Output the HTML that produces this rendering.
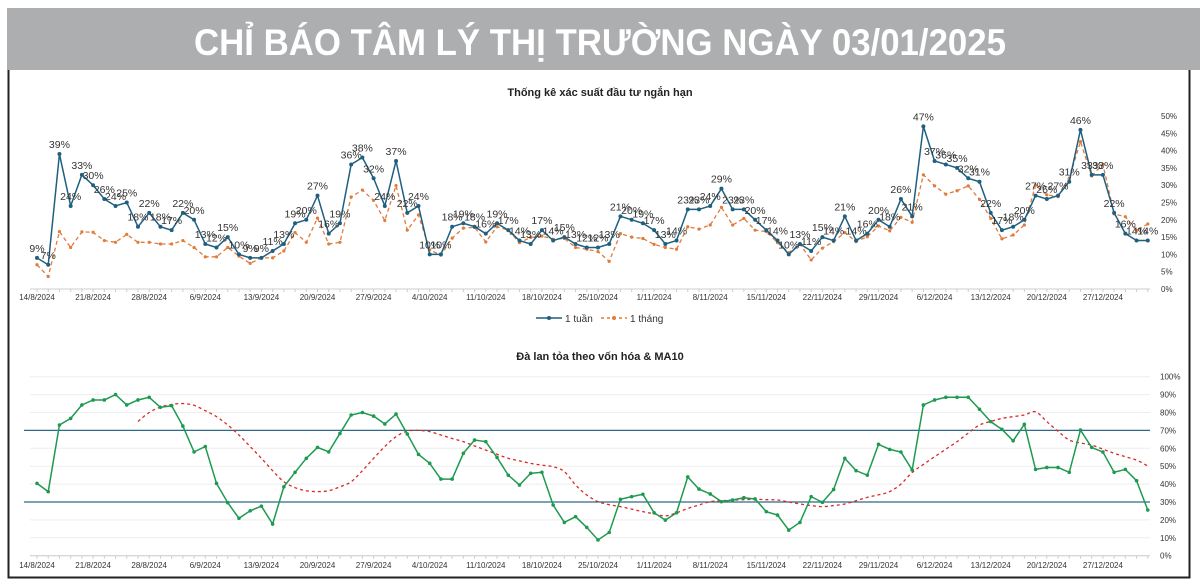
<!DOCTYPE html>
<html><head><meta charset="utf-8"><style>
html,body{margin:0;padding:0;background:#fff;}
svg{display:block;font-family:"Liberation Sans",sans-serif;}
</style></head><body>
<svg id="c" width="1200" height="587" viewBox="0 0 1200 587" xmlns="http://www.w3.org/2000/svg">
<rect x="7" y="8" width="1193" height="62" fill="#adaeb0"/>
<text x="600" y="55" text-anchor="middle" fill="#fff" font-size="37" font-weight="bold" textLength="812" lengthAdjust="spacingAndGlyphs">CHỈ BÁO TÂM LÝ THỊ TRƯỜNG NGÀY 03/01/2025</text>
<path d="M8.5 70 V577.5 H1189.5 V70" fill="none" stroke="#222" stroke-width="2"/>
<text x="600" y="96" text-anchor="middle" font-size="11" font-weight="bold" fill="#222">Thống kê xác suất đầu tư ngắn hạn</text>
<text x="600" y="360" text-anchor="middle" font-size="11" font-weight="bold" fill="#222">Đà lan tỏa theo vốn hóa &amp; MA10</text>
<g>
<g><line x1="536" y1="318" x2="562" y2="318" stroke="#1f5f7f" stroke-width="1.5"/><circle cx="549" cy="318" r="2" fill="#1f5f7f"/><text x="565" y="322" font-size="10" fill="#333">1 tuần</text></g>
<g><line x1="601" y1="318" x2="627" y2="318" stroke="#e07b39" stroke-width="1.5" stroke-dasharray="3,3"/><circle cx="614" cy="318" r="2" fill="#e07b39"/><text x="630" y="322" font-size="10" fill="#333">1 tháng</text></g>
</g>
<g id="gtop"></g>
<g id="gbot"></g>
</svg>
<script>
const xLabels=["14/8/2024","21/8/2024","28/8/2024","6/9/2024","13/9/2024","20/9/2024","27/9/2024","4/10/2024","11/10/2024","18/10/2024","25/10/2024","1/11/2024","8/11/2024","15/11/2024","22/11/2024","29/11/2024","6/12/2024","13/12/2024","20/12/2024","27/12/2024"];
const week1=[9,7,39,24,33,30,26,24,25,18,22,18,17,22,20,13,12,15,10,9,9,11,13,19,20,27,16,19,36,38,32,24,37,22,24,10,10,18,19,18,16,19,17,14,13,17,14,15,13,12,12,13,21,20,19,17,13,14,23,23,24,29,23,23,20,17,14,10,13,11,15,14,21,14,16,20,18,26,21,47,37,36,35,32,31,22,17,18,20,27,26,27,31,46,33,33,22,16,14,14];
const month1=[7,3.6,16.6,12,16.5,16.4,14,13.5,15.8,13.5,13.5,13,13,14,12,9.3,9.3,12,9.5,7.4,9,9,11,16.3,13.5,20.5,13,13.5,26.6,28.6,25.6,19.8,29.9,17,21.4,11.3,9.8,14.7,17.6,17.8,13.6,18,17,13.4,14.9,15.3,14.4,14.6,12,11.5,10.8,8,16,15,14.6,12.9,12,11.5,18,17.3,18.5,23.6,18.5,20.4,17,16.6,13.4,10.5,13,8.4,11.8,13.7,16.3,13.7,15.1,18.2,16.8,20.7,19.3,33,29.8,27.4,28.4,29.8,25.9,20.4,14.5,15.6,18.5,30,27.2,26.7,32,42.6,32.7,36,21.7,20.9,16.9,18.8];
const breadth=[40.4,35.8,73,76.7,84.2,87,87,90,84.2,87,88.5,82.9,83.8,72.4,58,61,40.4,29.6,20.9,25.1,27.7,17.7,38.5,46.6,54.4,60.5,58,68.3,78.6,80,78,73.6,79.1,68,56.6,51.6,42.8,42.8,57.2,64.6,63.7,54.9,45,39.5,46,46.6,28.3,18.6,21.8,15.8,8.8,13,31.5,33,34.3,24,19.9,24,44,37.2,34.5,30.2,31.1,32.4,31.7,24.6,22.7,14.3,18.6,33,29.8,37,54.4,47.5,45,62.2,59.4,57.9,47.9,84.2,87,88.5,88.5,88.5,81.8,74.9,70.6,64.2,73.4,48.2,49.3,49.3,46.6,70.2,60.5,57.9,46.6,48.2,41.9,25.5];
const ma10=[null,null,null,null,null,null,null,null,null,75,80,83,84.5,85,84,81,77.7,73,67.4,61,54.4,47.5,41.3,38,36.3,35.8,36.3,38.5,41.3,47.5,54.4,61,66.5,69.6,70,69.3,67.4,65.5,63.7,61.3,59,56.7,54.4,53,51.6,50.6,49.7,47,39.5,33.9,30.2,28.5,27.4,26,24.6,23.4,22.2,24,26.4,28.3,30.2,30.7,31.1,31.3,31.5,31.3,31.1,30,28.9,28,27.4,28,28.9,30.7,32.6,34,35.8,40,46.5,51,55.3,59.5,63.7,68.5,73,75,76.7,77.7,78.6,80.4,74.9,69.5,64.6,63,61.8,59.5,57.2,55.3,53.4,50.1];
const topTicks=[0,5,10,15,20,25,30,35,40,45,50];
const botTicks=[0,10,20,30,40,50,60,70,80,90,100];
const bands=[70,30];

const NS="http://www.w3.org/2000/svg";
function mk(parent,tag,attrs,text){const e=document.createElementNS(NS,tag);for(const k in attrs)e.setAttribute(k,attrs[k]);if(text!=null)e.textContent=text;parent.appendChild(e);return e;}
const X=i=>37+i*11.22;
const YT=v=>289-v*3.46;
const YB=v=>555.7-v*1.79;
const gTop=document.getElementById('gtop'), gBot=document.getElementById('gbot');
function smooth(pts){let d=`M${pts[0][0]},${pts[0][1]}`;for(let i=0;i<pts.length-1;i++){const p0=pts[i-1]||pts[i],p1=pts[i],p2=pts[i+1],p3=pts[i+2]||p2;const c1x=p1[0]+(p2[0]-p0[0])/6,c1y=p1[1]+(p2[1]-p0[1])/6,c2x=p2[0]-(p3[0]-p1[0])/6,c2y=p2[1]-(p3[1]-p1[1])/6;d+=` C${c1x},${c1y} ${c2x},${c2y} ${p2[0]},${p2[1]}`;}return d;}
function xaxis(g,y,ly){
  let a=mk(g,'line',{x1:30,y1:y,x2:1150,y2:y,stroke:'#ccc','stroke-width':1});
  
  
  for(let i=0;i<100;i++){let t=mk(g,'line',{x1:X(i),y1:y,x2:X(i),y2:y+3,stroke:'#ccc'});
    
    }
  xLabels.forEach((s,k)=>{let t=mk(g,'text',{x:X(k*5),y:ly,'text-anchor':'middle','font-size':8,fill:'#333'},s);
    
    });
}
// top chart
topTicks.forEach(v=>{let t=mk(gTop,'text',{x:1161,y:YT(v)+3,'font-size':8,fill:'#333'},v+'%');
  
  });
xaxis(gTop,289,300);
let pm=mk(gTop,'polyline',{points:month1.map((v,i)=>X(i)+','+YT(v)).join(' '),fill:'none',stroke:'#e07b39','stroke-width':1.3,'stroke-dasharray':'4,3'});


month1.forEach((v,i)=>{let c=mk(gTop,'circle',{cx:X(i),cy:YT(v),r:1.6,fill:'#e07b39'});
  
  });
let pw=mk(gTop,'polyline',{points:week1.map((v,i)=>X(i)+','+YT(v)).join(' '),fill:'none',stroke:'#1f5f7f','stroke-width':1.5});


week1.forEach((v,i)=>{let c=mk(gTop,'circle',{cx:X(i),cy:YT(v),r:2,fill:'#1f5f7f'});
  
  
  let t=mk(gTop,'text',{x:X(i),y:YT(v)-6,'text-anchor':'middle','font-size':10.5,fill:'#333'},v+'%');
  
  });
// bottom chart
botTicks.forEach(v=>{let l=mk(gBot,'line',{x1:30,y1:YB(v),x2:1150,y2:YB(v),stroke:'#eee'});
  
  
  let t=mk(gBot,'text',{x:1160,y:YB(v)+3,'font-size':8,fill:'#333'},v+'%');
  
  });
xaxis(gBot,555.7,568);
bands.forEach(v=>{let l=mk(gBot,'line',{x1:24,y1:YB(v),x2:1150,y2:YB(v),stroke:'#2e6b85','stroke-width':1.3});
  
  });
const maPts=[];ma10.forEach((v,i)=>{if(v!=null)maPts.push([X(i),YB(v)]);});
let pma=mk(gBot,'path',{d:smooth(maPts),fill:'none',stroke:'#d62a2a','stroke-width':1.3,'stroke-dasharray':'3,3'});


let pb=mk(gBot,'polyline',{points:breadth.map((v,i)=>X(i)+','+YB(v)).join(' '),fill:'none',stroke:'#1e9a50','stroke-width':1.5});


breadth.forEach((v,i)=>{let c=mk(gBot,'circle',{cx:X(i),cy:YB(v),r:1.8,fill:'#1e9a50'});
  
  });
</script>
</body></html>
